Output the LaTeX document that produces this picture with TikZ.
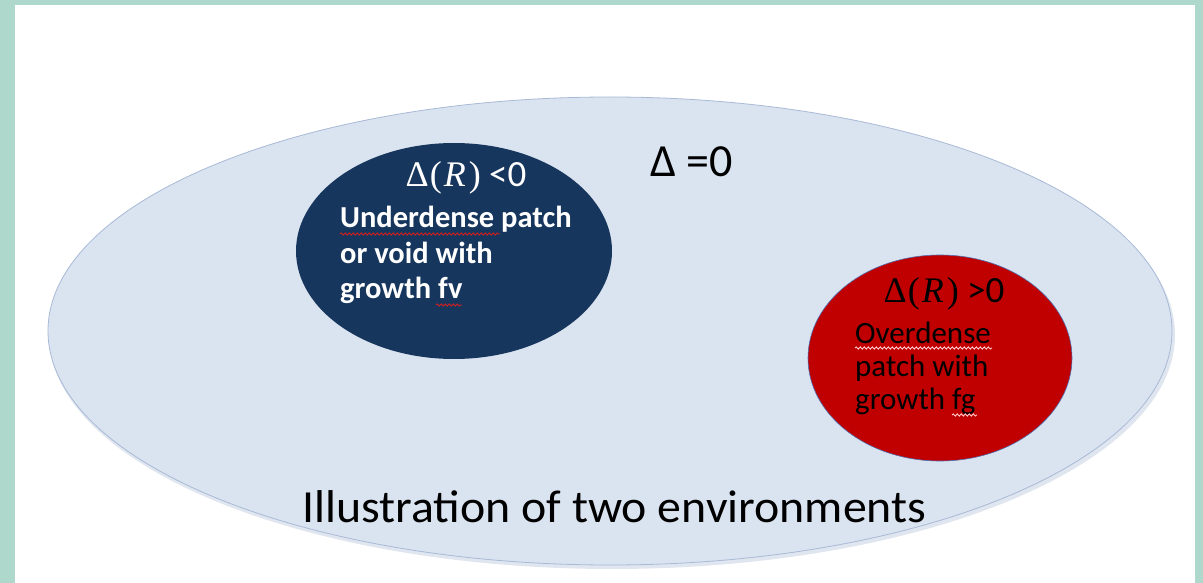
\documentclass[tikz,border=0pt]{standalone}
\usepackage{fontspec}
\setmainfont{Carlito}
\newfontfamily\mathlike{Liberation Serif}
\newfontfamily\capfont[FakeStretch=1.04]{Carlito}
\usetikzlibrary{decorations.pathmorphing,shapes.geometric}
\definecolor{frame}{HTML}{AED8CB}
\definecolor{bigfill}{HTML}{DAE3F0}
\definecolor{bigline}{HTML}{A8BAD6}
\definecolor{navy}{HTML}{17365D}
\definecolor{redfill}{HTML}{C00000}
\definecolor{redline}{HTML}{4F6FAF}
\definecolor{squig}{HTML}{D02020}
\newcommand{\DR}{{\mathlike\fontsize{36}{36}\selectfont Δ\kern1pt(\kern2pt\textit{R}\kern3pt)}}
\tikzset{
  bodyw/.style={anchor=base west, text=white, font=\fontsize{30.5}{30.5}\selectfont\bfseries, inner sep=0pt},
  bodyk/.style={anchor=base west, text=black, font=\fontsize{31}{31}\selectfont, inner sep=0pt},
  headfont/.style={anchor=base, inner sep=0pt, font=\fontsize{37}{37}\selectfont},
  squiggle/.style={draw=squig, line width=0.9pt, decorate, decoration={snake, amplitude=1.1pt, segment length=4pt}},
}
\begin{document}
\begin{tikzpicture}[x=1pt,y=-1pt]
\useasboundingbox (0,0) rectangle (1203,583);
\fill[frame] (0,0) rectangle (1203,583);
\fill[white] (15,5) rectangle (1195,583);
% big ellipse with soft shadow
\fill[bigline, opacity=0.35] (612,335) ellipse [x radius=563, y radius=234];
\node (big) [draw=bigline, fill=bigfill, line width=0.8pt, ellipse, minimum width=1124pt, minimum height=468pt, inner sep=0pt] at (610,331) {};
% navy ellipse
\node (void) [fill=navy, minimum width=316pt, minimum height=216pt, inner sep=0pt, shape=ellipse] at (454,251) {};
% red ellipse
\node (over) [fill=redfill, draw=redline, line width=0.6pt, minimum width=264pt, minimum height=206pt, inner sep=0pt, shape=ellipse] at (940,358) {};
% labels
\node (d0) [anchor=base west, font=\fontsize{46}{46}\selectfont, inner sep=0pt] at (650,177) {Δ =0};
\node (vt) [headfont, text=white] at (466,187) {\DR\ <0};
\node (v1) [bodyw] at (340,228) {Underdense patch};
\node (v2) [bodyw] at (340,263) {or void with};
\node (v3) [bodyw] at (340,298) {growth fv};
\node (ot) [headfont, text=black] at (944,302) {\DR\ >0};
\node (o1) [bodyk] at (855,343) {Overdense};
\node (o2) [bodyk] at (855,376) {patch with};
\node (o3) [bodyk] at (855,409) {growth fg};
\node (cap) [anchor=base west, font=\capfont\fontsize{46}{46}\selectfont, inner sep=0pt] at (302,522) {Illustration of two environments};
% spell-check squiggles
\coordinate (s1a) at (340,234); \coordinate (s1b) at (500,234);
\coordinate (s2a) at (436,305); \coordinate (s2b) at (462,305);
\coordinate (s3a) at (855,348); \coordinate (s3b) at (992,348);
\coordinate (s4a) at (952,415); \coordinate (s4b) at (977,415);
\draw[squiggle] (s1a) -- (s1b);
\draw[squiggle] (s2a) -- (s2b);
\draw[squiggle, draw=white!80!red] (s3a) -- (s3b);
\draw[squiggle, draw=white!80!red] (s4a) -- (s4b);
\end{tikzpicture}
\end{document}
